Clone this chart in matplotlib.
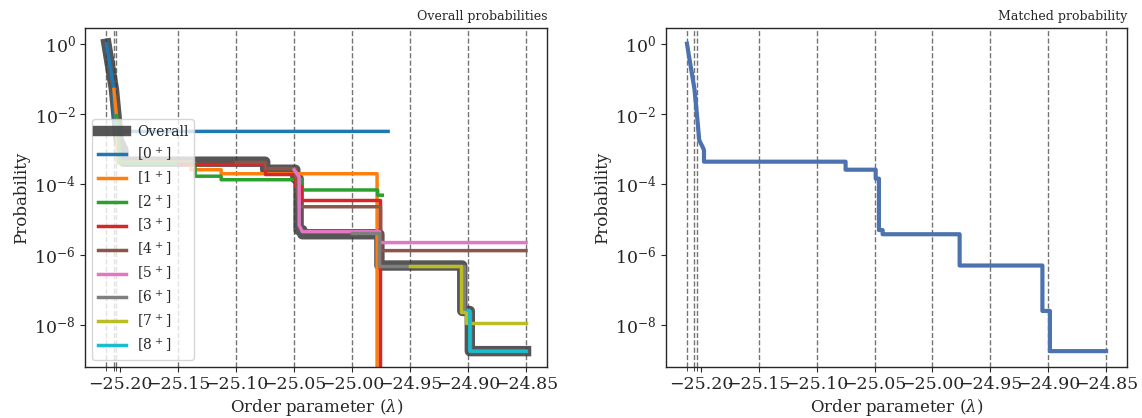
"""Crossing probabilities per path ensemble and the matched (overall) curve."""

import matplotlib
matplotlib.use("Agg")
import matplotlib.pyplot as plt

plt.rcParams.update({
    "font.family": "DejaVu Serif",
    "mathtext.fontset": "dejavuserif",
    "text.color": ".15",
    "axes.labelcolor": ".15",
    "axes.edgecolor": ".15",
    "xtick.color": ".15",
    "ytick.color": ".15",
    "xtick.direction": "out",
    "ytick.direction": "out",
    "axes.linewidth": 1.0,
    "xtick.labelsize": 12.5,
    "ytick.labelsize": 12.5,
    "axes.labelsize": 12,
    "axes.labelpad": 3.0,
})

# interface positions (order parameter)
interfaces = [-25.2120, -25.2055, -25.2033, -25.15, -25.10, -25.05,
              -25.00, -24.95, -24.90, -24.85]

# matched / overall crossing probability
overall_lam = [-25.2120, -25.2055, -25.2033, -25.2014, -25.1980, -25.1973,
               -25.1973, -25.0750, -25.0750, -25.0490, -25.0490, -25.0462,
               -25.0462, -25.0430, -25.0430, -24.9765, -24.9765, -24.9050,
               -24.9050, -24.8985, -24.8985, -24.8500]
overall_prob = [1.0, 5.0e-2, 8.9e-3, 1.8e-3, 1.07e-3, 9.3e-4,
                4.4e-4, 4.4e-4, 2.6e-4, 2.6e-4, 1.45e-4, 1.45e-4,
                5.0e-6, 5.0e-6, 3.8e-6, 3.8e-6, 4.9e-7, 4.9e-7,
                2.5e-8, 2.5e-8, 1.8e-9, 1.8e-9]

# per-ensemble scaled crossing probabilities, [0+] ... [8+]
ens_labels = [r"[%d$^{\,+}$]" % i for i in range(9)]
ens_colors = ["#1f77b4", "#ff7f0e", "#2ca02c", "#d62728", "#8c564b",
              "#e377c2", "#7f7f7f", "#bcbd22", "#17becf"]

ens0_lam = [-25.2120, -25.2055, -25.2050, -24.9690]
ens0_prob = [1.0, 5.0e-2, 3.2e-3, 3.2e-3]

ens1_lam = [-25.2055, -25.2033, -25.2025, -25.1390, -25.1390, -25.1130,
            -25.1130, -24.9785, -24.9785]
ens1_prob = [5.0e-2, 8.9e-3, 4.2e-4, 4.2e-4, 2.6e-4, 2.6e-4,
             2.0e-4, 2.0e-4, 0.0]

ens2_lam = [-25.2033, -25.2014, -25.2005, -25.1355, -25.1355, -25.1130,
            -25.1130, -25.0430, -25.0430, -24.9780, -24.9780, -24.9740]
ens2_prob = [8.9e-3, 1.8e-3, 4.0e-4, 4.0e-4, 1.7e-4, 1.7e-4,
             1.35e-4, 1.35e-4, 6.9e-5, 6.9e-5, 4.9e-5, 4.9e-5]

ens3_lam = [-25.15, -25.075, -25.075, -25.049, -25.049, -25.0445,
            -25.0445, -24.9760, -24.9760]
ens3_prob = [3.9e-4, 3.9e-4, 2.0e-4, 2.0e-4, 8.9e-5, 8.9e-5,
             3.5e-5, 3.5e-5, 0.0]

ens4_lam = [-25.10, -25.075, -25.075, -25.049, -25.0460, -24.9755,
            -24.9755, -24.85]
ens4_prob = [4.2e-4, 4.2e-4, 2.8e-4, 2.8e-4, 2.3e-5, 2.3e-5,
             1.3e-6, 1.3e-6]

ens5_lam = [-25.05, -25.0457, -25.0457, -25.0430, -24.9765, -24.9765,
            -24.85]
ens5_prob = [2.6e-4, 1.6e-4, 6.8e-6, 4.5e-6, 4.5e-6, 2.2e-6, 2.2e-6]

ens6_lam = [-25.00, -24.9765, -24.9765, -24.9035, -24.9035, -24.8985,
            -24.8985, -24.85]
ens6_prob = [4.2e-6, 4.2e-6, 4.9e-7, 4.9e-7, 2.3e-8, 2.3e-8,
             1.8e-9, 1.8e-9]

ens7_lam = [-24.95, -24.9060, -24.9060, -24.9015, -24.9015, -24.85]
ens7_prob = [4.9e-7, 4.9e-7, 2.4e-8, 2.4e-8, 1.1e-8, 1.1e-8]

ens8_lam = [-24.90, -24.8985, -24.8985, -24.85]
ens8_prob = [2.6e-8, 2.5e-8, 1.8e-9, 1.8e-9]

ens_lam = [ens0_lam, ens1_lam, ens2_lam, ens3_lam, ens4_lam,
           ens5_lam, ens6_lam, ens7_lam, ens8_lam]
ens_prob = [ens0_prob, ens1_prob, ens2_prob, ens3_prob, ens4_prob,
            ens5_prob, ens6_prob, ens7_prob, ens8_prob]


def mark_interfaces(ax):
    for lam in interfaces:
        ax.axvline(lam, color="k", ls="--", lw=1.0, alpha=0.55, zorder=0)
    ax.set_xticks(interfaces, minor=True)
    ax.tick_params(axis="x", which="minor", length=3)
    ax.set_yscale("log")
    ax.set_xlabel(r"Order parameter ($\lambda$)")
    ax.set_ylabel("Probability")


fig = plt.figure(figsize=(11.42, 4.18), dpi=100)
ax1 = fig.add_axes([0.0748, 0.1232, 0.4042, 0.8091])
ax2 = fig.add_axes([0.5832, 0.1232, 0.4037, 0.8091])

# left: every ensemble on top of the overall curve
ax1.plot(overall_lam, overall_prob, color="0.22", lw=7.5, alpha=0.85,
         label="Overall", solid_joinstyle="round")
for lam, prob, col, lab in zip(ens_lam, ens_prob, ens_colors, ens_labels):
    ax1.plot(lam, prob, color=col, lw=2.5, label=lab)
mark_interfaces(ax1)
ax1.set_title("Overall probabilities", loc="right", fontsize=9)
ax1.legend(loc="lower left", fontsize=10, framealpha=0.8, labelspacing=0.4)

# right: the matched probability alone
ax2.plot(overall_lam, overall_prob, color="#4c72b0", lw=3)
mark_interfaces(ax2)
ax2.set_title("Matched probability", loc="right", fontsize=9)

fig.savefig("out.png", dpi=100)
plt.close(fig)
